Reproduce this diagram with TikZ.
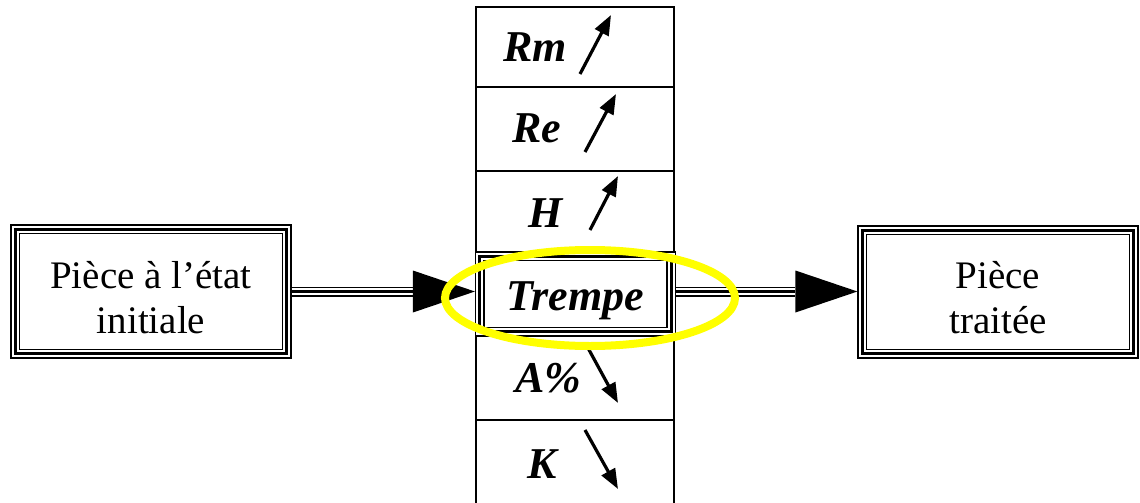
\documentclass[tikz,border=0pt]{standalone}
\usepackage{fontspec}
\setmainfont{Liberation Serif}
\usetikzlibrary{arrows.meta}
\begin{document}
\begin{tikzpicture}[x=1pt,y=-1pt,
  boxtext/.style={align=center,font=\fontsize{39}{45}\selectfont,inner sep=0},
  lbl/.style={anchor=base west,inner sep=0,font=\fontsize{44}{50}\selectfont\bfseries\itshape},
  tripA/.style={line width=10pt},
  tripB/.style={white,line width=7pt},
  tripC/.style={line width=3pt},
  cell/.style={draw,line width=1.6pt,minimum width=198pt,inner sep=0},
  trend/.style={line width=3.2pt,-{Triangle[length=20pt,width=15pt]}},
  hl/.style={draw={rgb,255:red,255;green,255;blue,0},line width=8pt}
]
\useasboundingbox (0,0) rectangle (1140,503);
% column cells
\node[cell,minimum height=80pt] (cRm) at (575,47) {};
\node[cell,minimum height=84pt] (cRe) at (575,129) {};
\node[cell,minimum height=82pt] (cH) at (575,212) {};
\node[cell,minimum height=85pt] (cA) at (575,377.5) {};
\node[cell,minimum height=100pt] (cK) at (575,470) {};
% boxes (size = centre line of the middle, thick rule)
\node[minimum width=270.7pt,minimum height=123.8pt,inner sep=0] (L) at (151,291.5) {};
\node[minimum width=270.8pt,minimum height=122.8pt,inner sep=0] (R) at (998,292) {};
\node[minimum width=190.8pt,minimum height=74.8pt,inner sep=0,fill=white] (T) at (575.5,294) {};
\foreach \n in {L,R,T}{
  \draw[tripA] (\n.south west) rectangle (\n.north east);
  \draw[tripB] (\n.south west) rectangle (\n.north east);
  \draw[tripC] (\n.south west) rectangle (\n.north east);
}
\node[boxtext] (Lt) at (151,298) {Pièce à l’état\\initiale};
\node[boxtext] (Rt) at (998,298) {Pièce\\traitée};
\node[lbl] (Tt) at (506,310) {Trempe};
% labels
\node[lbl] (lRm) at (503,62) {Rm};
\node[lbl] (lRe) at (512,142) {Re};
\node[lbl] (lH) at (528,227) {H};
\node[lbl] (lA) at (515,392) {A\%};
\node[lbl] (lK) at (527,478) {K};
% trend arrows
\coordinate (a1s) at (580,74); \coordinate (a1e) at (611,15);
\coordinate (a2s) at (585,152); \coordinate (a2e) at (616,94);
\coordinate (a3s) at (590,230); \coordinate (a3e) at (618,176);
\coordinate (a4s) at (588,348); \coordinate (a4e) at (618,403);
\coordinate (a5s) at (585,430); \coordinate (a5e) at (618,489);
\draw[trend] (a1s) -- (a1e);
\draw[trend] (a2s) -- (a2e);
\draw[trend] (a3s) -- (a3e);
\draw[trend] (a4s) -- (a4e);
\draw[trend] (a5s) -- (a5e);
% connectors
\coordinate (Le) at ([xshift=5pt]L.east);
\coordinate (Tw) at ([xshift=-5pt]T.west |- Le);
\coordinate (Te) at ([xshift=5pt]T.east |- Le);
\coordinate (Rw) at ([xshift=-5pt]R.west |- Le);
\coordinate (lb) at ([xshift=-62pt]Tw);
\coordinate (rb) at ([xshift=-62pt]Rw);
\foreach \a/\b in {Le/lb, Te/rb}{
  \draw[tripA] (\a) -- (\b);
  \draw[tripB] (\a) -- (\b);
  \draw[tripC] (\a) -- (\b);
}
\fill (Tw) -- ++(-62,-21) -- ++(0,42) -- cycle;
\fill (Rw) -- ++(-62,-21) -- ++(0,42) -- cycle;
% highlight
\draw[hl] (590,298) ellipse [x radius=145, y radius=48];
\end{tikzpicture}
\end{document}
